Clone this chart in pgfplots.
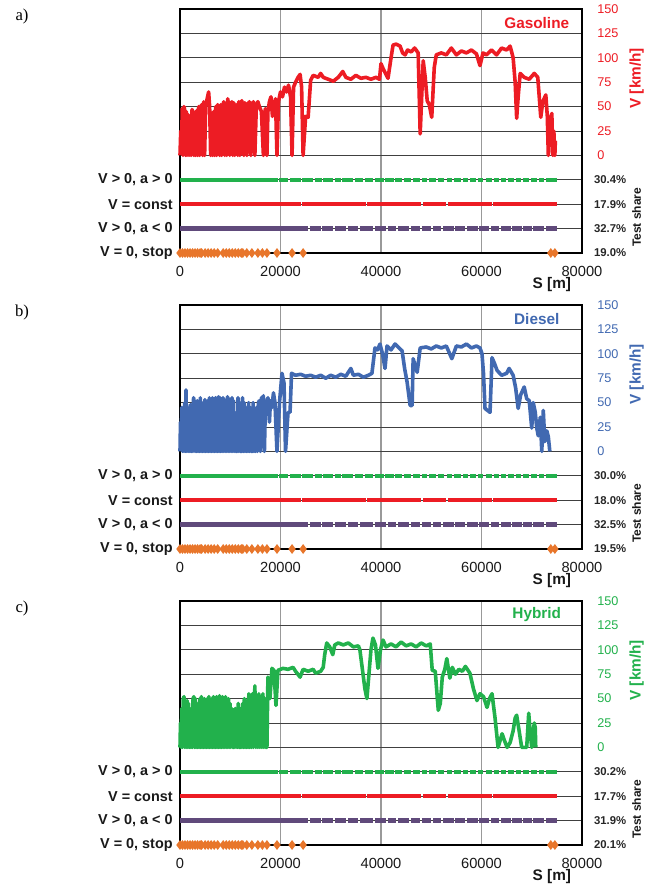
\documentclass[border=0pt]{standalone}
\usepackage{pgfplots}
\pgfplotsset{compat=1.18}
\usepackage{pgfplotstable}
\usepackage{fontspec}
\setmainfont{Liberation Sans}
\newfontfamily\seriffont{Liberation Serif}
\definecolor{cRed}{HTML}{ED1C24}
\definecolor{cBlue}{HTML}{4169B1}
\definecolor{cGreen}{HTML}{22B14C}
\definecolor{cPurple}{HTML}{604A7B}
\definecolor{cOrange}{HTML}{E8762B}

% ---------- strips (distance ranges of each driving mode) ----------
\pgfplotstableread[row sep=\\]{
x y\\
0 -25\\ 19500 -25\\ nan nan\\ 19800 -25\\ 21500 -25\\ nan nan\\ 21800 -25\\ 24000 -25\\ nan nan\\
24300 -25\\ 26500 -25\\ nan nan\\ 26800 -25\\ 28200 -25\\ nan nan\\ 28500 -25\\ 30500 -25\\ nan nan\\
30800 -25\\ 32000 -25\\ nan nan\\ 32300 -25\\ 34500 -25\\ nan nan\\ 34800 -25\\ 36500 -25\\ nan nan\\
36800 -25\\ 38500 -25\\ nan nan\\ 38800 -25\\ 40500 -25\\ nan nan\\ 40800 -25\\ 42500 -25\\ nan nan\\
42800 -25\\ 44200 -25\\ nan nan\\ 44600 -25\\ 46000 -25\\ nan nan\\ 46400 -25\\ 47800 -25\\ nan nan\\
48200 -25\\ 49200 -25\\ nan nan\\ 49600 -25\\ 51000 -25\\ nan nan\\ 51400 -25\\ 52600 -25\\ nan nan\\
53200 -25\\ 54200 -25\\ nan nan\\ 54600 -25\\ 56000 -25\\ nan nan\\ 56400 -25\\ 57400 -25\\ nan nan\\
57800 -25\\ 59000 -25\\ nan nan\\ 59400 -25\\ 60400 -25\\ nan nan\\ 60800 -25\\ 62000 -25\\ nan nan\\
62400 -25\\ 63400 -25\\ nan nan\\ 63800 -25\\ 64800 -25\\ nan nan\\ 65200 -25\\ 66400 -25\\ nan nan\\
66800 -25\\ 67800 -25\\ nan nan\\ 68200 -25\\ 69400 -25\\ nan nan\\ 69800 -25\\ 71000 -25\\ nan nan\\
71400 -25\\ 72400 -25\\ nan nan\\ 72800 -25\\ 75000 -25\\
}\stripAccel

\pgfplotstableread[row sep=\\]{
x y\\
0 -50\\ 24000 -50\\ nan nan\\ 24300 -50\\ 37000 -50\\ nan nan\\ 37300 -50\\ 48000 -50\\ nan nan\\
48400 -50\\ 53000 -50\\ nan nan\\ 53300 -50\\ 62000 -50\\ nan nan\\ 62300 -50\\ 75000 -50\\
}\stripConst

\pgfplotstableread[row sep=\\]{
x y\\
0 -75\\ 25500 -75\\ nan nan\\ 25800 -75\\ 28000 -75\\ nan nan\\ 28300 -75\\ 30500 -75\\ nan nan\\
30800 -75\\ 33000 -75\\ nan nan\\ 33400 -75\\ 35500 -75\\ nan nan\\ 35800 -75\\ 38500 -75\\ nan nan\\
38800 -75\\ 41000 -75\\ nan nan\\ 41300 -75\\ 43000 -75\\ nan nan\\ 43400 -75\\ 45500 -75\\ nan nan\\
45900 -75\\ 47800 -75\\ nan nan\\ 48100 -75\\ 50000 -75\\ nan nan\\ 50400 -75\\ 52000 -75\\ nan nan\\
52400 -75\\ 54500 -75\\ nan nan\\ 54800 -75\\ 56800 -75\\ nan nan\\ 57200 -75\\ 59300 -75\\ nan nan\\
59600 -75\\ 61500 -75\\ nan nan\\ 61900 -75\\ 63500 -75\\ nan nan\\ 63900 -75\\ 65800 -75\\ nan nan\\
66100 -75\\ 68000 -75\\ nan nan\\ 68300 -75\\ 70000 -75\\ nan nan\\ 70300 -75\\ 72500 -75\\ nan nan\\
72800 -75\\ 75000 -75\\
}\stripDecel

\pgfplotstableread[row sep=\\]{
x y\\
0 -100\\ 500 -100\\ 1000 -100\\ 1500 -100\\ 2000 -100\\ 2500 -100\\ 3000 -100\\ 3500 -100\\ 4000 -100\\ 4300 -100\\ nan nan\\
5000 -100\\ 5600 -100\\ 6200 -100\\ 6800 -100\\ 7500 -100\\ nan nan\\
8600 -100\\ 9200 -100\\ 9800 -100\\ 10400 -100\\ 11000 -100\\ 11600 -100\\ 12200 -100\\ 12500 -100\\ nan nan\\
13300 -100\\ nan nan\\ 14300 -100\\ nan nan\\ 15500 -100\\ nan nan\\ 16400 -100\\ nan nan\\
17300 -100\\ nan nan\\ 19300 -100\\ nan nan\\ 22300 -100\\ nan nan\\ 24500 -100\\ nan nan\\
73800 -100\\ 74600 -100\\
}\stripStop

% ---------- speed traces ----------
\pgfplotstableread[row sep=\\]{
x y\\
0 0\\ 150 25\\ 300 5\\ 450 48\\ 600 0\\ 800 50\\ 950 46\\ 1100 0\\ 1250 45\\ 1400 0\\ 1600 42\\ 1800 0\\
2000 38\\ 2200 0\\ 2400 47\\ 2600 44\\ 2750 0\\ 2900 40\\ 3100 0\\ 3300 46\\ 3500 0\\ 3700 50\\ 3900 0\\
4100 48\\ 4300 52\\ 4500 0\\ 4700 55\\ 4900 0\\ 5100 50\\ 5400 58\\ 5700 65\\ 5900 50\\ 6100 0\\ 6300 40\\
6500 0\\ 6700 45\\ 6900 0\\ 7100 50\\ 7300 0\\ 7500 52\\ 7700 48\\ 7900 0\\ 8100 52\\ 8300 0\\ 8500 50\\
8700 55\\ 8900 0\\ 9100 52\\ 9300 0\\ 9500 58\\ 9700 50\\ 9900 0\\ 10100 52\\ 10300 55\\ 10500 0\\
10700 54\\ 10900 0\\ 11100 50\\ 11300 52\\ 11500 0\\ 11700 55\\ 11900 0\\ 12100 53\\ 12300 56\\ 12500 50\\
12700 0\\ 12900 54\\ 13100 50\\ 13300 0\\ 13500 52\\ 13800 55\\ 14100 0\\ 14300 50\\ 14600 55\\ 14900 0\\
15200 52\\ 15500 55\\ 15800 50\\ 16200 45\\ 16600 0\\ 16800 40\\ 17000 48\\ 17300 0\\ 17500 45\\ 17800 55\\
18100 60\\ 18400 40\\ 18700 50\\ 19000 58\\ 19300 0\\ 19600 55\\ 20000 65\\ 20400 60\\ 20800 70\\
21200 65\\ 21600 72\\ 22000 60\\ 22300 0\\ 22600 70\\ 23000 75\\ 23500 80\\ 23900 83\\ 24200 70\\
24500 0\\ 25000 40\\ 25500 39\\ 26000 77\\ 26500 82\\ 27500 80\\ 28000 84\\ 28500 80\\ 29500 78\\
30500 76\\ 31500 80\\ 32400 86\\ 33000 80\\ 34000 78\\ 35000 82\\ 36000 79\\ 37000 80\\ 38000 78\\
39000 80\\ 39700 78\\ 40000 94\\ 40500 88\\ 41400 79\\ 42000 100\\ 42400 113\\ 43000 114\\ 43800 112\\
44300 105\\ 44800 103\\ 45300 108\\ 46000 106\\ 46700 110\\ 47400 105\\ 47800 22\\ 48100 60\\ 48400 97\\
48800 80\\ 49200 56\\ 49600 52\\ 50100 39\\ 50600 90\\ 51000 103\\ 52000 105\\ 53000 103\\ 54000 110\\
55000 103\\ 56000 107\\ 57000 105\\ 58000 108\\ 59000 104\\ 59700 92\\ 60300 105\\ 61000 103\\ 62000 108\\
63000 103\\ 64000 110\\ 65000 108\\ 65700 112\\ 66300 100\\ 66700 75\\ 67000 38\\ 67300 60\\ 67700 84\\
68500 80\\ 69500 78\\ 70500 84\\ 71200 80\\ 71800 39\\ 72200 55\\ 72800 62\\ 73100 40\\ 73300 0\\
73600 35\\ 74000 43\\ 74200 0\\ 74400 25\\ 74600 0\\ 74700 15\\
}\speedA

\pgfplotstableread[row sep=\\]{
x y\\
0 0\\ 100 30\\ 200 5\\ 350 45\\ 500 0\\ 650 40\\ 800 0\\ 950 50\\ 1100 0\\ 1200 63\\ 1350 0\\ 1500 45\\
1650 0\\ 1800 40\\ 1950 0\\ 2100 48\\ 2250 0\\ 2400 42\\ 2550 0\\ 2700 55\\ 2850 50\\ 3000 0\\ 3150 45\\
3300 0\\ 3450 52\\ 3600 0\\ 3750 45\\ 3900 0\\ 4050 55\\ 4200 0\\ 4350 48\\ 4500 0\\ 4650 50\\ 4800 0\\
4950 53\\ 5100 0\\ 5250 48\\ 5400 0\\ 5550 52\\ 5700 0\\ 5850 55\\ 6000 0\\ 6150 50\\ 6300 0\\ 6450 55\\
6600 0\\ 6750 52\\ 6900 0\\ 7050 55\\ 7200 0\\ 7350 50\\ 7500 0\\ 7650 56\\ 7800 0\\ 7950 55\\ 8100 0\\
8250 52\\ 8400 0\\ 8550 55\\ 8700 0\\ 8850 50\\ 9000 0\\ 9150 53\\ 9300 0\\ 9450 56\\ 9600 0\\ 9750 54\\
9900 0\\ 10050 52\\ 10200 0\\ 10350 55\\ 10500 0\\ 10650 52\\ 10800 0\\ 10950 40\\ 11100 0\\ 11400 0\\
11550 55\\ 11700 0\\ 11850 50\\ 12000 0\\ 12300 0\\ 12450 55\\ 12600 0\\ 12750 50\\ 12900 0\\ 13050 35\\
13200 0\\ 13350 45\\ 13500 0\\ 13650 50\\ 13800 0\\ 14000 45\\ 14150 0\\ 14400 0\\ 14550 50\\ 14700 0\\
14850 40\\ 15000 0\\ 15200 45\\ 15400 0\\ 15600 50\\ 15800 52\\ 16000 0\\ 16200 55\\ 16400 50\\ 16600 57\\
16800 0\\ 17000 50\\ 17200 48\\ 17500 55\\ 17800 30\\ 18000 52\\ 18300 45\\ 18600 60\\ 18900 50\\
19300 0\\ 19800 50\\ 20300 80\\ 20700 70\\ 21000 0\\ 21500 40\\ 21900 40\\ 22200 80\\ 23000 78\\
24000 79\\ 25000 77\\ 26000 78\\ 27000 76\\ 28000 78\\ 29000 75\\ 30000 78\\ 31000 76\\ 32000 79\\
33000 77\\ 34000 85\\ 34500 78\\ 35500 79\\ 36500 76\\ 37500 78\\ 38200 80\\ 38800 106\\ 39300 104\\
39800 110\\ 40300 100\\ 40800 85\\ 41200 108\\ 42000 104\\ 42800 110\\ 43600 106\\ 44200 103\\ 44700 85\\
45200 71\\ 45600 55\\ 45800 47\\ 46200 47\\ 46400 95\\ 46800 88\\ 47200 81\\ 47800 106\\ 49000 107\\
50000 105\\ 51000 108\\ 52000 106\\ 53000 108\\ 54100 95\\ 55000 108\\ 56000 107\\ 57000 110\\
58000 106\\ 59000 108\\ 59700 106\\ 60100 100\\ 60400 80\\ 60700 44\\ 61200 42\\ 61700 40\\ 62100 96\\
62600 90\\ 63100 83\\ 64000 78\\ 65000 80\\ 65500 85\\ 66300 78\\ 66800 65\\ 67300 44\\ 67800 58\\
68500 66\\ 69000 54\\ 69500 52\\ 70000 24\\ 70300 50\\ 70700 40\\ 71000 24\\ 71300 16\\ 71700 35\\
72000 0\\ 72300 42\\ 72600 10\\ 73000 21\\ 73300 15\\ 73600 0\\
}\speedB

\pgfplotstableread[row sep=\\]{
x y\\
0 0\\ 100 25\\ 200 0\\ 350 40\\ 500 0\\ 650 50\\ 800 52\\ 950 0\\ 1100 45\\ 1250 0\\ 1400 48\\ 1550 0\\
1700 45\\ 1850 0\\ 2000 40\\ 2150 0\\ 2300 35\\ 2450 0\\ 2600 50\\ 2750 52\\ 2900 0\\ 3050 50\\ 3200 0\\
3350 45\\ 3500 0\\ 3650 40\\ 3800 0\\ 3950 50\\ 4100 0\\ 4250 52\\ 4400 0\\ 4550 48\\ 4700 0\\ 4850 50\\
5000 0\\ 5150 45\\ 5300 0\\ 5450 50\\ 5600 0\\ 5750 52\\ 5900 0\\ 6050 48\\ 6200 0\\ 6350 50\\ 6500 0\\
6650 52\\ 6800 0\\ 6950 50\\ 7100 0\\ 7250 52\\ 7400 0\\ 7550 50\\ 7700 0\\ 7850 53\\ 8000 0\\ 8150 50\\
8300 0\\ 8450 52\\ 8600 0\\ 8750 50\\ 8900 0\\ 9050 52\\ 9200 0\\ 9350 48\\ 9500 0\\ 9650 50\\ 9800 0\\
9950 45\\ 10100 0\\ 10250 40\\ 10400 35\\ 10500 0\\ 10800 0\\ 11000 40\\ 11150 0\\ 11300 35\\ 11450 0\\
11600 45\\ 11750 0\\ 12000 0\\ 12150 40\\ 12300 0\\ 12500 45\\ 12650 0\\ 12800 50\\ 12950 0\\ 13100 48\\
13250 0\\ 13400 45\\ 13550 0\\ 13700 55\\ 13850 0\\ 14000 50\\ 14200 0\\ 14400 55\\ 14600 0\\ 14900 63\\
15100 0\\ 15300 50\\ 15500 0\\ 15700 55\\ 15900 0\\ 16100 52\\ 16300 0\\ 16500 55\\ 16700 0\\ 16900 50\\
17100 0\\ 17300 0\\ 17500 72\\ 17900 50\\ 18300 81\\ 18700 79\\ 19100 43\\ 19500 79\\ 20500 81\\
21500 80\\ 22500 82\\ 23000 78\\ 23900 72\\ 24500 80\\ 25500 78\\ 26500 80\\ 27000 76\\ 28000 78\\
28500 82\\ 28800 95\\ 29200 107\\ 29800 103\\ 30400 95\\ 30800 105\\ 31500 107\\ 32500 105\\ 33500 107\\
34500 103\\ 35500 104\\ 35800 100\\ 36300 80\\ 36800 60\\ 37200 50\\ 37600 75\\ 38000 100\\ 38400 112\\
38900 105\\ 39400 81\\ 39900 100\\ 40400 110\\ 41000 103\\ 42000 106\\ 43000 103\\ 44000 108\\
45000 104\\ 46000 106\\ 47000 103\\ 48000 107\\ 49000 104\\ 49800 106\\ 50200 79\\ 50800 78\\
51400 38\\ 51800 45\\ 52200 72\\ 52700 80\\ 53100 91\\ 53700 71\\ 54200 82\\ 54800 75\\ 55500 80\\
56200 78\\ 56800 83\\ 57700 76\\ 58400 60\\ 59100 48\\ 59700 55\\ 60400 52\\ 61100 41\\ 61600 50\\
62100 55\\ 62700 30\\ 63300 0\\ 64100 14\\ 64500 8\\ 65100 0\\ 65700 5\\ 66300 17\\ 66700 30\\
67000 33\\ 67400 20\\ 68000 0\\ 68500 0\\ 69000 0\\ 69400 35\\ 69700 15\\ 70000 0\\ 70500 25\\
70700 20\\ 70800 0\\
}\speedC

\pgfplotsset{panel/.style={
  scale only axis, width=301.5pt, height=183pt, anchor=south west,
  xmin=0, xmax=80000, ymin=-100, ymax=150,
  xtick={0,20000,40000,60000,80000},
  ytick={-100,-75,...,150},
  yticklabels={,,,,0,25,50,75,100,125,150},
  yticklabel pos=right,
  scaled x ticks=false,
  /pgf/number format/assume math mode=true,
  /pgf/number format/set thousands separator={},
  xticklabel style={font=\fontsize{11}{13}\selectfont, yshift=-6.5pt, text=black!90},
  yticklabel style={font=\fontsize{9.5}{11}\selectfont, xshift=8pt, anchor=west},
  major tick length=0pt,
  grid=major,
  major x grid style={color=black!40, line width=0.8pt},
  major y grid style={color=black!75, line width=0.7pt},
  axis line style={line width=1pt, black},
  clip=false,
  unbounded coords=jump,
}}
\tikzset{
catlabel/.style={anchor=east, font=\bfseries\fontsize{10.8}{12}\selectfont, text=black!90, xshift=-2pt},
pctlabel/.style={anchor=west, font=\bfseries\fontsize{8.5}{10}\selectfont, text=black!85, xshift=5.5pt},
}

\newcommand{\drawstrips}{%
  \addplot[cGreen, line width=3pt] table {\stripAccel};
  \addplot[cRed, line width=2.6pt] table {\stripConst};
  \addplot[cPurple, line width=3.8pt] table {\stripDecel};
  \addplot[cOrange, line width=2.3pt, mark=diamond*, mark size=1.8pt] table {\stripStop};
}
\newcommand{\sidelabels}[4]{%
  \node[catlabel] at (axis cs:0,-25) {V > 0, a > 0};
  \node[catlabel] at (axis cs:0,-50) {V = const};
  \node[catlabel] at (axis cs:0,-75) {V > 0, a < 0};
  \node[catlabel] at (axis cs:0,-100) {V = 0, stop};
  \node[pctlabel] at (axis cs:80000,-25) {#1};
  \node[pctlabel] at (axis cs:80000,-50) {#2};
  \node[pctlabel] at (axis cs:80000,-75) {#3};
  \node[pctlabel] at (axis cs:80000,-100) {#4};
  \node[rotate=90, font=\bfseries\fontsize{9}{11}\selectfont, text=black!90] at ([xshift=41pt]axis cs:80000,-63.5) {Test share};
  \node[font=\bfseries\fontsize{11.5}{13}\selectfont, text=black!90] at ([yshift=-24pt]axis cs:74000,-100) {S [m]};
}

\begin{document}
\begin{tikzpicture}
\useasboundingbox (-135pt,-33.75pt) rectangle (354pt,633.75pt);

% ---------------- a) Gasoline ----------------
\begin{axis}[panel, at={(0pt,444pt)}, yticklabel style={text=cRed}]
\drawstrips
\addplot[cRed, line width=2.7pt, line join=round] table {\speedA};
\sidelabels{30.4\%}{17.9\%}{32.7\%}{19.0\%}
\node[font=\bfseries\fontsize{11.5}{13}\selectfont, text=cRed] at (axis cs:71000,136) {Gasoline};
\node[rotate=90, font=\bfseries\fontsize{11.5}{13}\selectfont, text=cRed] at ([xshift=41pt]axis cs:80000,79) {V [km/h]};
\node[font=\seriffont\fontsize{12.5}{14}\selectfont] at ([xshift=-118.5pt]axis cs:0,142) {a)};
\end{axis}

% ---------------- b) Diesel ----------------
\begin{axis}[panel, at={(0pt,222pt)}, yticklabel style={text=cBlue}]
\drawstrips
\addplot[cBlue, line width=2.7pt, line join=round] table {\speedB};
\sidelabels{30.0\%}{18.0\%}{32.5\%}{19.5\%}
\node[font=\bfseries\fontsize{11.5}{13}\selectfont, text=cBlue] at (axis cs:71000,136) {Diesel};
\node[rotate=90, font=\bfseries\fontsize{11.5}{13}\selectfont, text=cBlue] at ([xshift=41pt]axis cs:80000,79) {V [km/h]};
\node[font=\seriffont\fontsize{12.5}{14}\selectfont] at ([xshift=-118.5pt]axis cs:0,142) {b)};
\end{axis}

% ---------------- c) Hybrid ----------------
\begin{axis}[panel, at={(0pt,0pt)}, yticklabel style={text=cGreen}]
\drawstrips
\addplot[cGreen, line width=2.7pt, line join=round] table {\speedC};
\sidelabels{30.2\%}{17.7\%}{31.9\%}{20.1\%}
\node[font=\bfseries\fontsize{11.5}{13}\selectfont, text=cGreen] at (axis cs:71000,136) {Hybrid};
\node[rotate=90, font=\bfseries\fontsize{11.5}{13}\selectfont, text=cGreen] at ([xshift=41pt]axis cs:80000,79) {V [km/h]};
\node[font=\seriffont\fontsize{12.5}{14}\selectfont] at ([xshift=-118.5pt]axis cs:0,142) {c)};
\end{axis}
\end{tikzpicture}
\end{document}
